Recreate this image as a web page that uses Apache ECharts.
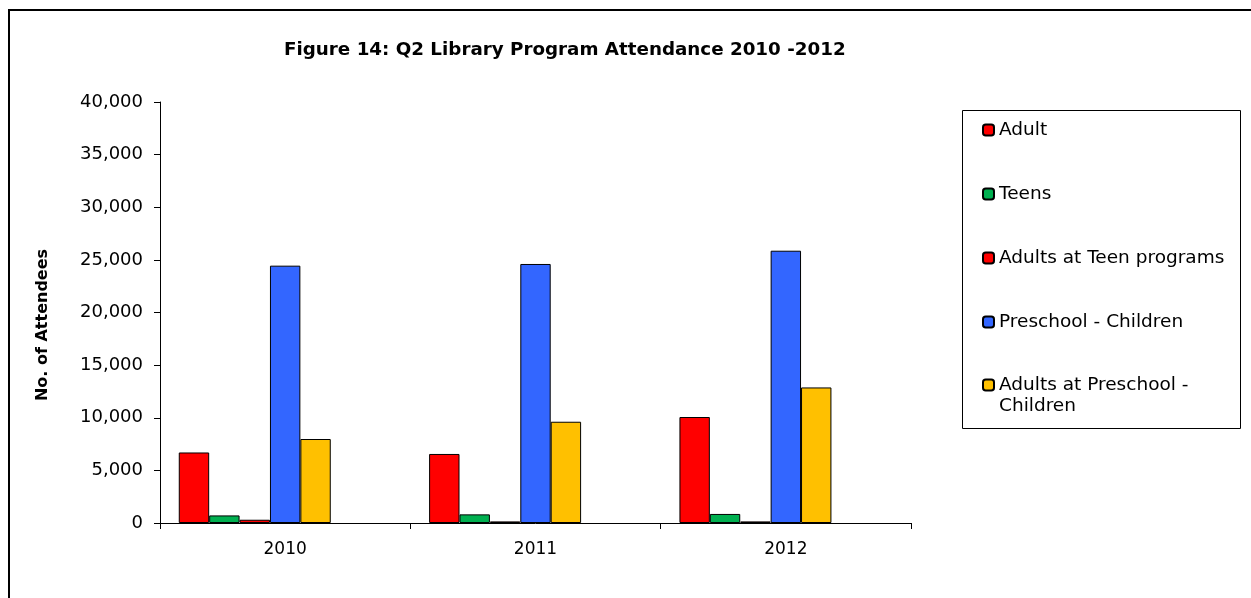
<!DOCTYPE html>
<html>
<head>
<meta charset="utf-8">
<script src="https://cdn.jsdelivr.net/npm/echarts@6/dist/echarts.min.js"></script>
<style>
html,body{margin:0;padding:0;background:#fff;}
#chart{width:1251px;height:598px;}
</style>
</head>
<body>
<div id="chart"></div>
<script>
var categories = ['2010', '2011', '2012'];
var adult = [6700, 6560, 10070];
var teens = [720, 820, 860];
var adultsAtTeen = [310, 150, 150];
var preschool = [24450, 24610, 25870];
var adultsAtPreschool = [7980, 9620, 12880];
var seriesNames = ['Adult', 'Teens', 'Adults at Teen programs', 'Preschool - Children', 'Adults at Preschool - Children'];
var seriesColors = ['#FF0000', '#00B050', '#FF0000', '#3366FF', '#FFC000'];
var yTicks = [0, 5000, 10000, 15000, 20000, 25000, 30000, 35000, 40000];

var FONT = 'DejaVu Sans';
var dataSets = [adult, teens, adultsAtTeen, preschool, adultsAtPreschool];

var series = dataSets.map(function (d, i) {
  return {
    name: seriesNames[i],
    type: 'bar',
    data: d,
    barGap: '0%',
    barCategoryGap: '15%',
    itemStyle: { color: seriesColors[i], borderColor: '#000', borderWidth: 1 },
    emphasis: { disabled: true },
    animation: false
  };
});
// two empty slots that the original layout reserves in each group
['_slot6', '_slot7'].forEach(function (n) {
  series.push({ name: n, type: 'bar', data: [null, null, null], barGap: '0%', barCategoryGap: '15%', animation: false });
});

var legendText = { fontFamily: FONT, fontSize: 18.5, color: '#000', lineHeight: 21 };
var lastName = seriesNames[seriesNames.length - 1];

var chart = echarts.init(document.getElementById('chart'), null, { renderer: 'canvas' });
chart.setOption({
  animation: false,
  backgroundColor: '#fff',
  title: {
    text: 'Figure 14: Q2 Library Program Attendance 2010 -2012',
    left: 284,
    top: 41,
    padding: 0,
    textStyle: { fontFamily: FONT, fontWeight: 'bold', fontSize: 18.3, color: '#000' }
  },
  legend: [{
    data: seriesNames.slice(0, 4),
    orient: 'vertical',
    left: 982,
    top: 119.5,
    padding: 0,
    itemGap: 43,
    itemWidth: 11,
    itemHeight: 11,
    selectedMode: false,
    textStyle: legendText
  }, {
    data: [lastName],
    orient: 'vertical',
    left: 982,
    top: 353.5,
    padding: 0,
    itemWidth: 11,
    itemHeight: 11,
    selectedMode: false,
    formatter: function () {
      return ' \nAdults at Preschool -\nChildren';
    },
    textStyle: legendText
  }],
  grid: { left: 160, right: 340, top: 102, bottom: 75, containLabel: false },
  xAxis: {
    type: 'category',
    data: categories,
    axisLine: { lineStyle: { color: '#000', width: 1 } },
    axisTick: { show: true, length: 6, lineStyle: { color: '#000' } },
    axisLabel: { fontFamily: FONT, fontSize: 17, color: '#000', margin: 18 }
  },
  yAxis: {
    type: 'value',
    min: 0,
    max: 40000,
    interval: 5000,
    name: 'No. of Attendees',
    nameLocation: 'middle',
    nameRotate: 90,
    nameGap: 109,
    nameTextStyle: { fontFamily: FONT, fontWeight: 'bold', fontSize: 16, color: '#000', padding: [0, 25, 0, 0] },
    axisLine: { show: true, lineStyle: { color: '#000', width: 1 } },
    axisTick: { show: true, length: 6, lineStyle: { color: '#000' } },
    splitLine: { show: false },
    axisLabel: {
      fontFamily: FONT, fontSize: 18, color: '#000', margin: 17,
      formatter: function (v) {
        return yTicks.indexOf(v) >= 0 ? v.toLocaleString('en-US') : '';
      }
    }
  },
  graphic: [
    { type: 'rect', silent: true, shape: { x: 9, y: 10, width: 1300, height: 700 }, style: { fill: 'none', stroke: '#000', lineWidth: 2 } },
    { type: 'rect', silent: true, shape: { x: 962.5, y: 110.5, width: 278, height: 318 }, style: { fill: 'none', stroke: '#000', lineWidth: 1 } }
  ],
  series: series
});
</script>
</body>
</html>
